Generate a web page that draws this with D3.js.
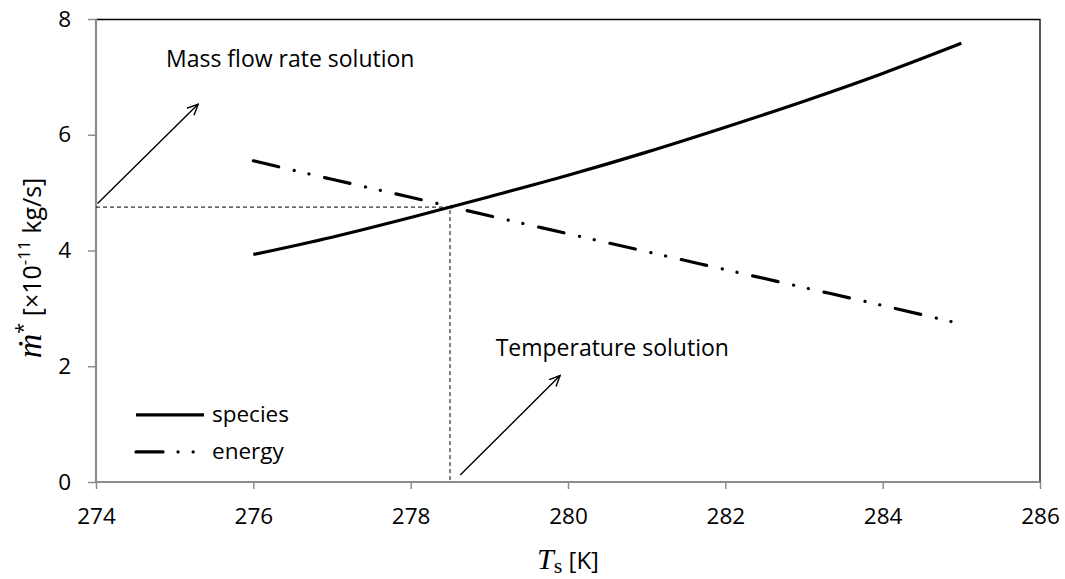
<!DOCTYPE html>
<html>
<head>
<meta charset="utf-8">
<script src="https://cdn.jsdelivr.net/npm/d3@7"></script>
<style>
  html, body { margin: 0; padding: 0; background: #fff; }
  svg { display: block; }
  text { font-family: "Open Sans", Lato, sans-serif; fill: #000; }
</style>
</head>
<body>
<svg id="chart" width="1065" height="579"></svg>
<script>
// Surface temperature (K)
const temps = [276, 277, 278, 279, 280, 281, 282, 283, 284, 285];
// Mass flow rate from the species balance (×10^-11 kg/s)
const speciesValues = [3.93, 4.23, 4.57, 4.93, 5.30, 5.70, 6.13, 6.58, 7.06, 7.58];
// Mass flow rate from the energy balance (×10^-11 kg/s)
const energyValues = [5.55, 5.23, 4.92, 4.60, 4.29, 3.98, 3.67, 3.36, 3.05, 2.73];

const xTicks = [274, 276, 278, 280, 282, 284, 286];
const yTicks = [0, 2, 4, 6, 8];

// Crossing point of the two balances
const solutionT = 278.5;
const solutionM = 4.75;

const W = 1065, H = 579;
const margin = { top: 19, right: 25, bottom: 97, left: 96 };
const iw = W - margin.left - margin.right;
const ih = H - margin.top - margin.bottom;
const fontSize = "22.5px";
const noteSize = "23px";

const svg = d3.select("#chart");
const g = svg.append("g").attr("transform", `translate(${margin.left},${margin.top})`);

const x = d3.scaleLinear().domain([274, 286]).range([0, iw]);
const y = d3.scaleLinear().domain([0, 8]).range([ih, 0]);

// Frame: black top and right edges
g.append("path")
  .attr("d", `M0,0.5H${iw}V${ih}`)
  .attr("fill", "none").attr("stroke", "#000").attr("stroke-width", 1.3);

// Axes (grey)
const axisColor = "#8c8c8c";
const xAxis = g.append("g").attr("transform", `translate(0,${ih})`)
  .call(d3.axisBottom(x).tickValues(xTicks).tickSize(7).tickPadding(19).tickFormat(d3.format("d")));
const yAxis = g.append("g")
  .call(d3.axisLeft(y).tickValues(yTicks).tickSize(8).tickPadding(17).tickFormat(d3.format("d")));
[xAxis, yAxis].forEach(a => {
  a.select(".domain").attr("stroke", axisColor).attr("stroke-width", 2.2);
  a.selectAll(".tick line").attr("stroke", axisColor).attr("stroke-width", 1.5);
  a.selectAll(".tick text").style("font-family", "'Open Sans', sans-serif").style("font-size", fontSize).attr("fill", "#000");
});
xAxis.select(".domain").attr("d", `M0,0H${iw}`);
yAxis.select(".domain").attr("d", `M0,0V${ih}`);

// Dashed guide lines to the solution
g.append("path")
  .attr("d", `M${x(274)},${y(solutionM)}H${x(solutionT)}V${y(0)}`)
  .attr("fill", "none").attr("stroke", "#000").attr("stroke-width", 1)
  .attr("stroke-dasharray", "4,3");

const line = d3.line().x(d => x(d[0])).y(d => y(d[1])).curve(d3.curveMonotoneX);

// Species balance curve
g.append("path")
  .datum(temps.map((t, i) => [t, speciesValues[i]]))
  .attr("d", line)
  .attr("fill", "none").attr("stroke", "#000").attr("stroke-width", 3.2);

// Energy balance curve (dash-dot-dot)
const dashDotDot = "26,16,0.1,15,0.1,16";
g.append("path")
  .datum(temps.map((t, i) => [t, energyValues[i]]))
  .attr("d", line)
  .attr("fill", "none").attr("stroke", "#000").attr("stroke-width", 3.2)
  .attr("stroke-linecap", "round")
  .attr("stroke-dasharray", dashDotDot);

// Open arrowhead marker
svg.append("defs").append("marker")
  .attr("id", "arrow").attr("viewBox", "0 0 12 12")
  .attr("refX", 11).attr("refY", 6)
  .attr("markerWidth", 12).attr("markerHeight", 12)
  .attr("markerUnits", "userSpaceOnUse")
  .attr("orient", "auto")
  .append("path").attr("d", "M0,1L11,6L0,11")
  .attr("fill", "none").attr("stroke", "#000").attr("stroke-width", 1.4);

function arrow(x0, y0, x1, y1) {
  g.append("line")
    .attr("x1", x(x0)).attr("y1", y(y0)).attr("x2", x(x1)).attr("y2", y(y1))
    .attr("stroke", "#000").attr("stroke-width", 1.4)
    .attr("marker-end", "url(#arrow)");
}
arrow(274.02, 4.81, 275.3, 6.53);
arrow(278.63, 0.12, 279.9, 1.84);

g.append("text")
  .attr("x", x(274.89)).attr("y", y(7.17))
  .style("font-size", noteSize)
  .text("Mass flow rate solution");
g.append("text")
  .attr("x", x(279.08)).attr("y", y(2.17))
  .style("font-size", noteSize)
  .text("Temperature solution");

// Legend
const legend = g.append("g");
const legendItems = [
  { label: "species", dash: null, yv: 1.16 },
  { label: "energy", dash: "27,15,0.1,15,0.1,200", yv: 0.52 }
];
legendItems.forEach(d => {
  legend.append("line")
    .attr("x1", 40).attr("x2", 108)
    .attr("y1", y(d.yv)).attr("y2", y(d.yv))
    .attr("stroke", "#000").attr("stroke-width", 3.2)
    .attr("stroke-linecap", d.dash ? "round" : "butt")
    .attr("stroke-dasharray", d.dash);
  legend.append("text")
    .attr("x", 116).attr("y", y(d.yv) + 7)
    .style("font-size", fontSize)
    .text(d.label);
});

// Axis titles
const xt = svg.append("text")
  .attr("x", margin.left + iw / 2).attr("y", 569)
  .attr("text-anchor", "middle")
  .style("font-size", "24px");
xt.append("tspan").style("font-family", "'Liberation Serif', serif").style("font-style", "italic").style("font-size", "30px").text("T");
xt.append("tspan").style("font-family", "'Liberation Serif', serif").style("font-size", "22px").attr("dy", 4).text("s");
xt.append("tspan").attr("dy", -4).text(" [K]");

const yt = svg.append("text")
  .attr("transform", "translate(41,268) rotate(-90)")
  .attr("text-anchor", "middle")
  .style("font-size", "25px");
yt.append("tspan").style("font-family", "'Liberation Serif', serif").style("font-style", "italic").style("font-size", "34px").text("ṁ");
yt.append("tspan").attr("dy", -11).style("font-size", "20px").text("*");
yt.append("tspan").attr("dy", 11).text(" [×10");
yt.append("tspan").attr("dy", -11).style("font-size", "17px").text("-11");
yt.append("tspan").attr("dy", 11).text(" kg/s]");
</script>
</body>
</html>
